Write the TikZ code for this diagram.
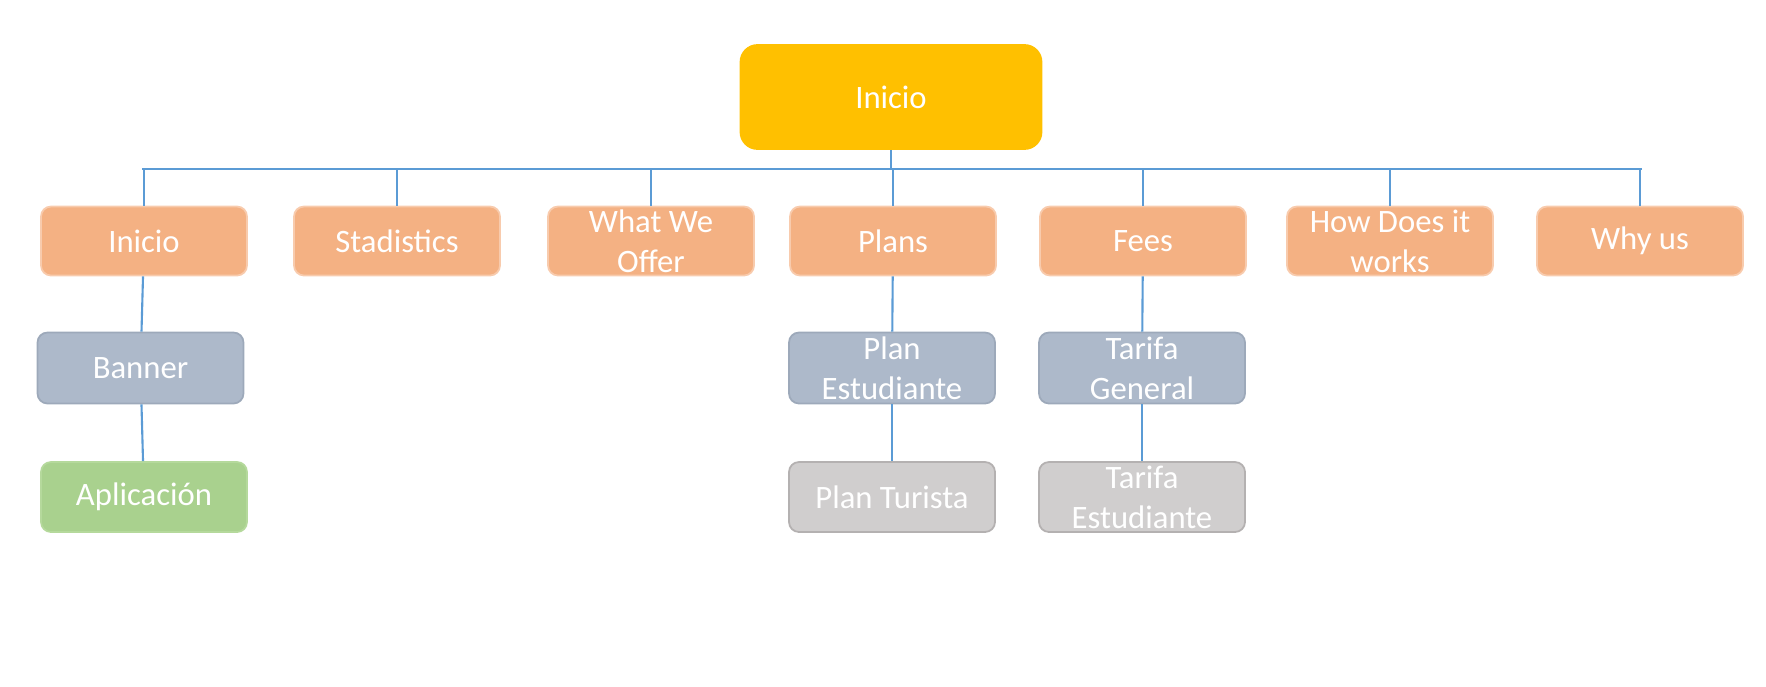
\documentclass[tikz,border=0pt]{standalone}
\usepackage{fontspec}
\setmainfont{Carlito}
\definecolor{rootgold}{HTML}{FFC000}
\definecolor{pagepeach}{HTML}{F4B183}
\definecolor{peachline}{HTML}{F8CBAD}
\definecolor{subblue}{HTML}{ADB9CA}
\definecolor{subline}{HTML}{9DA9BA}
\definecolor{leafgreen}{HTML}{A9D18E}
\definecolor{greenline}{HTML}{B5D99C}
\definecolor{leafgray}{HTML}{D0CECE}
\definecolor{grayline}{HTML}{B4B1B1}
\definecolor{linkblue}{HTML}{5B9BD5}
\begin{document}
\begin{tikzpicture}[align=center, font=\fontsize{9.3pt}{11.4pt}\selectfont, text=white]

    % Styles
    \tikzstyle{box} = [rectangle, rounded corners=0.1cm, minimum width=2.06cm, minimum height=0.69cm, inner sep=0pt, line width=0.5pt]
    \tikzstyle{toppage} = [box, fill=rootgold, draw=rootgold, minimum width=3.01cm, minimum height=1.04cm, rounded corners=0.17cm]
    \tikzstyle{page} = [box, fill=pagepeach, draw=peachline]
    \tikzstyle{subpage} = [box, fill=subblue, draw=subline, minimum height=0.71cm]
    \tikzstyle{greenleaf} = [box, fill=leafgreen, draw=greenline, minimum height=0.7cm]
    \tikzstyle{grayleaf} = [box, fill=leafgray, draw=grayline, minimum height=0.7cm]
    \tikzstyle{link} = [draw=linkblue, line width=0.6pt]

    \useasboundingbox (0,0) rectangle (17.66,6.86);

    % Root
    \node[toppage] (root) at (8.91,5.89) {Inicio};

    % Pages
    \foreach \n/\x/\t in {inicio/1.44/Inicio, stad/3.97/Stadistics, offer/6.51/What We\\Offer,
                          plans/8.93/Plans, fees/11.43/Fees, how/13.90/How Does it\\works, why/16.40/Why us}
        \node[page] (\n) at (\x,4.45) {\t};

    % Sub pages
    \node[subpage] (banner) at (1.405,3.18) {Banner};
    \node[subpage] (planest) at (8.92,3.18) {Plan\\Estudiante};
    \node[subpage] (tarifagen) at (11.42,3.18) {Tarifa\\General};

    % Leaves
    \node[greenleaf] (app) at (1.44,1.89) {Aplicación};
    \node[grayleaf] (planturista) at (8.92,1.89) {Plan Turista};
    \node[grayleaf] (tarifaest) at (11.42,1.89) {Tarifa\\Estudiante};

    % Bus from root to pages
    \coordinate (busL) at (1.42,5.17);
    \coordinate (busR) at (16.42,5.17);
    \draw[link] (busL) -- (busR);
    \draw[link] (root.south) -- (root.south |- busL);
    \foreach \n in {inicio, stad, offer, plans, fees, how, why}
        \draw[link] (\n.north) -- (\n.north |- busL);

    % Branches
    \draw[link] (inicio) -- (banner);
    \draw[link] (banner) -- (app);
    \draw[link] (plans) -- (planest);
    \draw[link] (planest) -- (planturista);
    \draw[link] (fees) -- (tarifagen);
    \draw[link] (tarifagen) -- (tarifaest);

\end{tikzpicture}
\end{document}
